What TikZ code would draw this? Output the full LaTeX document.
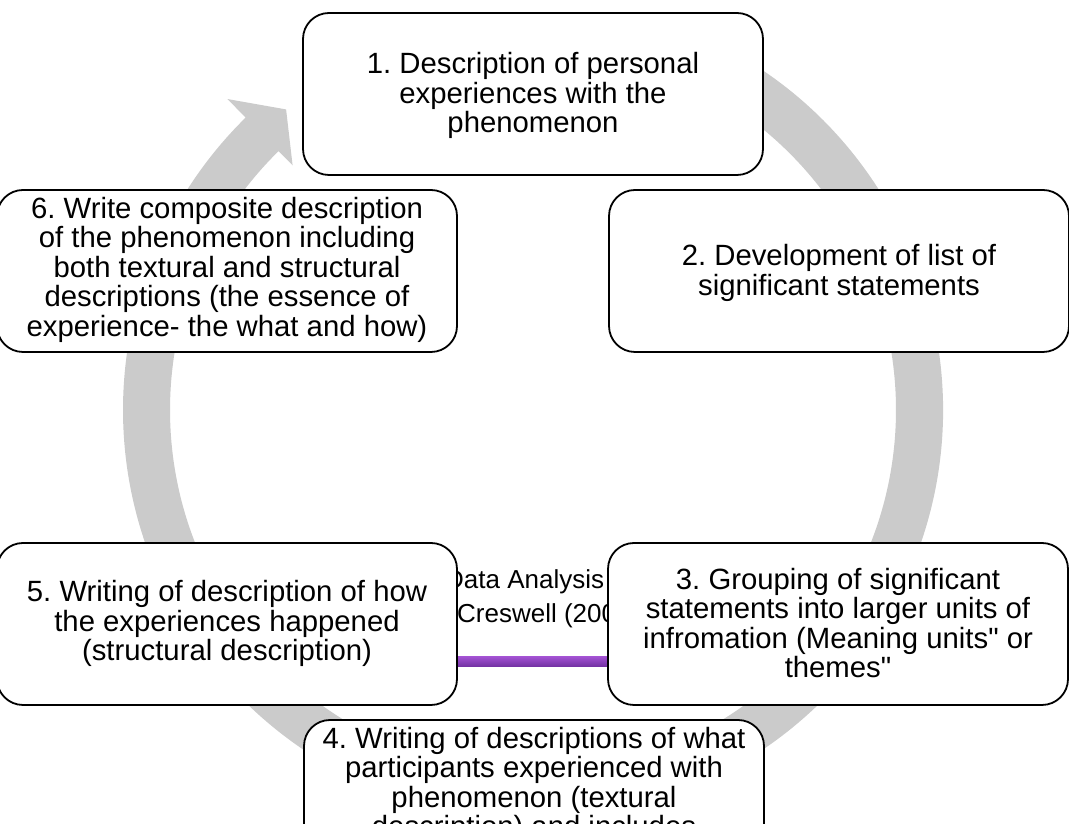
\documentclass[tikz,border=0pt]{standalone}
\usepackage{fontspec}
\setmainfont{Liberation Sans}[Ligatures=TeXOff]
\definecolor{ringgray}{HTML}{CBCBCB}
\definecolor{purpletop}{HTML}{A050D0}
\definecolor{purplebot}{HTML}{7030A0}
\newcommand{\bstrut}{\rule[-0.25\baselineskip]{0pt}{\baselineskip}}
\begin{document}
\frenchspacing
\begin{tikzpicture}[x=1pt,y=1pt,
  stepbox/.style={draw=black, line width=1.8pt, fill=white, rounded corners=26pt,
    minimum width=460pt, minimum height=162pt, inner sep=0pt},
  steptext/.style={inner sep=0pt, align=center, font=\fontsize{29.3}{29.5}\selectfont},
  titletext/.style={anchor=base west, inner sep=0pt, font=\fontsize{26}{30}\selectfont}]
\useasboundingbox (0,0) rectangle (1069,824);
% cycle ring arrow
\begin{scope}[shift={(533,414)}]
\fill[ringgray] (65:410pt) arc[start angle=65, end angle=-225.5, radius=410pt]
  -- (-225.5:436pt) -- (-230.6:389pt) -- (-225.5:343pt) -- (-225.5:363pt)
  arc[start angle=-225.5, end angle=65, radius=363pt] -- cycle;
\end{scope}
% centre title and bar
\node[titletext] (title1) at (445,235) {Data Analysis};
\node[titletext] (title2) at (457,201) {Creswell (2007)};
\shade[top color=purpletop, bottom color=purplebot] (440,157) rectangle (625,167);
% steps
\node[stepbox] (n1) at (533,730) {};
\node[steptext] (n1t) at ([yshift=-2pt]n1.center) {\bstrut 1. Description of personal\\experiences with the\\phenomenon\bstrut};
\node[stepbox] (n2) at (839,553) {};
\node[steptext] (n2t) at ([yshift=-2pt]n2.center) {\bstrut 2. Development of list of\\significant statements\bstrut};
\node[stepbox] (n3) at (838,200) {};
\node[steptext] (n3t) at ([yshift=-2pt]n3.center) {\bstrut 3. Grouping of significant\\statements into larger units of\\infromation (Meaning units" or\\themes"\bstrut};
\node[stepbox] (n4) at (534,23) {};
\node[steptext, anchor=north] (n4t) at ([yshift=-7pt]n4.north) {\bstrut 4. Writing of descriptions of what\\participants experienced with\\phenomenon (textural\\description) and includes\bstrut};
\node[stepbox] (n5) at (227,200) {};
\node[steptext] (n5t) at (n5.center) {\bstrut 5. Writing of description of how\\the experiences happened\\(structural description)\bstrut};
\node[stepbox] (n6) at (227,553) {};
\node[steptext] (n6t) at ([yshift=1pt]n6.center) {\bstrut 6. Write composite description\\of the phenomenon including\\both textural and structural\\descriptions (the essence of\\experience- the what and how)\bstrut};
\end{tikzpicture}
\end{document}
